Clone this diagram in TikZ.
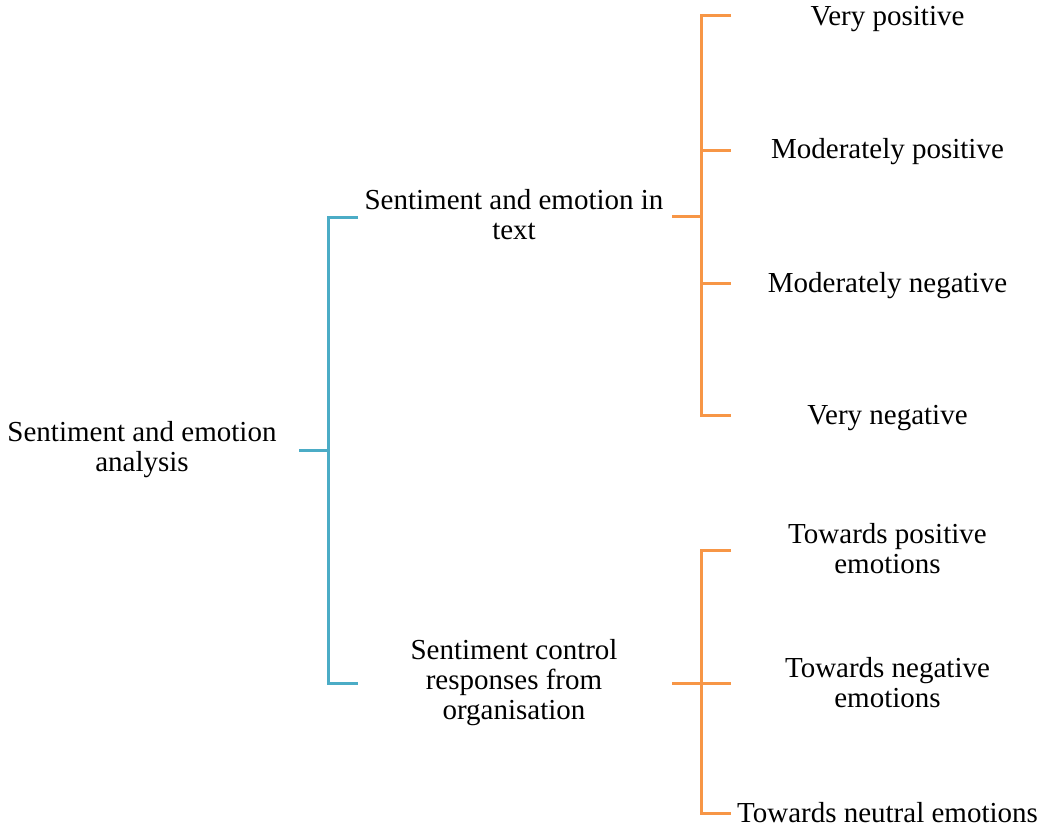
\documentclass[tikz,border=0pt]{standalone}
\usepackage{fontspec}
\setmainfont{Liberation Serif}
\definecolor{treeblue}{HTML}{4BACC6}
\definecolor{treeorange}{HTML}{F79646}
\begin{document}
\begin{tikzpicture}[x=1pt,y=-1pt,
  label/.style={inner sep=0pt, align=center, text=black,
    font=\fontsize{29}{30}\selectfont},
  bline/.style={draw=treeblue, line width=3pt},
  oline/.style={draw=treeorange, line width=3pt}]
\useasboundingbox (0,0) rectangle (1041,832);

% text nodes
\node[label] (root) at (142,450) {Sentiment and emotion\\analysis};
\node[label] (text) at (514,215) {Sentiment and emotion in\\text};
\node[label] (org)  at (514,683) {Sentiment control\\responses from\\organisation};
\node[label] (vp) at (887.5,19) {Very positive};
\node[label] (mp) at (887.5,152) {Moderately positive};
\node[label] (mn) at (887.5,286) {Moderately negative};
\node[label] (vn) at (887.5,418) {Very negative};
\node[label] (tp) at (887.5,549) {Towards positive\\emotions};
\node[label] (tn) at (887.5,683) {Towards negative\\emotions};
\node[label] (tu) at (887.5,813) {Towards neutral emotions};

% bracket ends
\coordinate (rootout) at (299,450);
\coordinate (bj) at (328.5,450);
\coordinate (textin) at (358,217);
\coordinate (orgin) at (358,683);
\coordinate (textout) at (672,216);
\coordinate (oj1) at (701.5,216);
\coordinate (orgout) at (672,683);
\coordinate (oj2) at (701.5,683);
\coordinate (vpin) at (731,16);
\coordinate (mpin) at (731,150);
\coordinate (mnin) at (731,283);
\coordinate (vnin) at (731,415);
\coordinate (tpin) at (731,550);
\coordinate (tnin) at (731,683);
\coordinate (tuin) at (731,813);

% first level
\draw[bline] (rootout) -- (bj);
\draw[bline] (textin) -- (textin -| bj) -- (orgin -| bj) -- (orgin);

% second level, upper group
\draw[oline] (textout) -- (oj1);
\draw[oline] (vpin) -- (vpin -| oj1) -- (vnin -| oj1) -- (vnin);
\draw[oline] (mpin -| oj1) -- (mpin);
\draw[oline] (mnin -| oj1) -- (mnin);

% second level, lower group
\draw[oline] (orgout) -- (oj2);
\draw[oline] (tpin) -- (tpin -| oj2) -- (tuin -| oj2) -- (tuin);
\draw[oline] (oj2) -- (tnin);
\end{tikzpicture}
\end{document}
